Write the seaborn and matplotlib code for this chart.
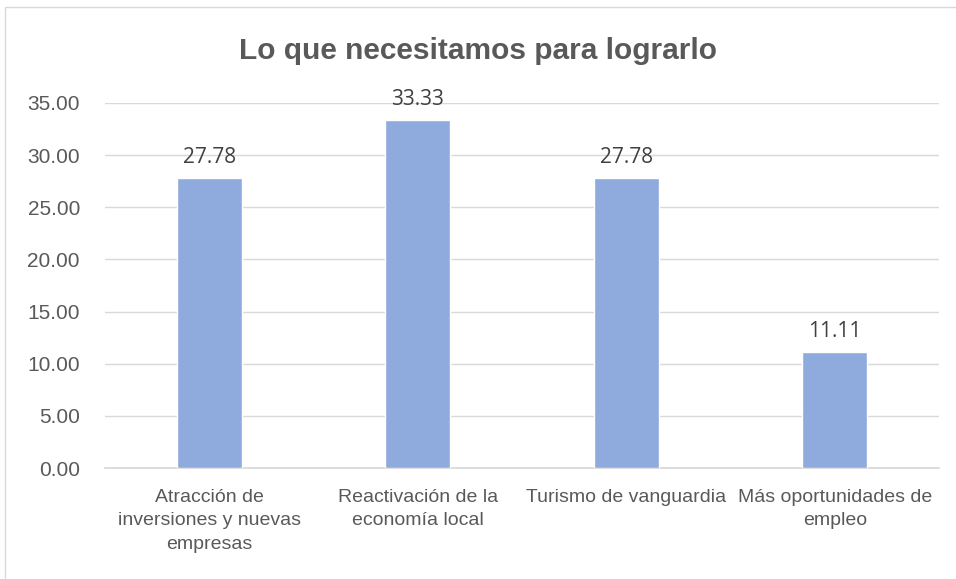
import pandas as pd
from matplotlib import pyplot as plt
from matplotlib.patches import Rectangle
import seaborn as sns

categories = ["Atracción de\ninversiones y nuevas\nempresas",
              "Reactivación de la\neconomía local",
              "Turismo de vanguardia",
              "Más oportunidades de\nempleo"]
values = [27.78, 33.33, 27.78, 11.11]
yticks = [0, 5, 10, 15, 20, 25, 30, 35]

df = pd.DataFrame({"cat": categories, "val": values})

sns.set_theme(style="white")
plt.rcParams["font.family"] = ["Liberation Sans", "DejaVu Sans"]

fig = plt.figure(figsize=(9.56, 5.79), dpi=100)
ax = fig.add_axes([105 / 956, 1 - 468 / 579, 834 / 956, 365 / 579])

sns.barplot(data=df, x="cat", y="val", color="#8faadc", saturation=1,
            width=0.31, ax=ax, zorder=3)

ax.set_ylim(0, 35)
ax.set_yticks(yticks)
ax.set_yticklabels([f"{t:.2f}" for t in yticks])
ax.yaxis.grid(True, color="#d9d9d9", lw=1)
ax.set_axisbelow(True)
for s in ["top", "right", "left"]:
    ax.spines[s].set_visible(False)
ax.spines["bottom"].set_color("#d9d9d9")
ax.set_xlabel("")
ax.set_ylabel("")
ax.tick_params(axis="both", length=0, labelcolor="#595959")
ax.tick_params(axis="x", pad=15, labelsize=14)
ax.tick_params(axis="y", pad=18, labelsize=15)
for lab in ax.get_xticklabels():
    lab.set_linespacing(1.5)

for i, v in enumerate(values):
    ax.text(i, v + 1.0, f"{v:.2f}", ha="center", va="bottom", fontsize=15,
            color="#404040", family=["Open Sans", "DejaVu Sans"])

fig.text(0.5, 1 - 51 / 579, "Lo que necesitamos para lograrlo", ha="center", va="center",
         fontsize=21.5, fontweight="bold", color="#595959")

fig.patches.append(Rectangle((5 / 956, -0.01), 1.0, 1 - 7 / 579 + 0.01, transform=fig.transFigure,
                             fill=False, edgecolor="#d9d9d9", lw=1))

fig.savefig("out.png", dpi=100)
